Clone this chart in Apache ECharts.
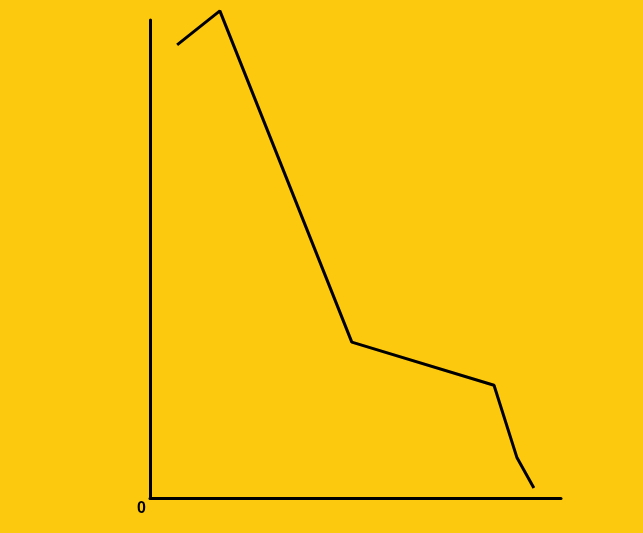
<!DOCTYPE html>
<html>
<head>
<meta charset="utf-8">
<script src="https://cdn.jsdelivr.net/npm/echarts@6/dist/echarts.min.js"></script>
<style>
html,body{margin:0;padding:0;background:#FDC90E;}
#c{width:643px;height:533px;}
</style>
</head>
<body>
<div id="c"></div>
<script>
const xValues = [6.6, 17.0, 49.1, 83.7, 89.3, 93.4];
const yValues = [94.8, 101.9, 32.6, 23.6, 8.4, 2.1];
const yTickLabels = ['0'];

const chart = echarts.init(document.getElementById('c'));
chart.setOption({
  backgroundColor: '#FDC90E',
  animation: false,
  grid: { left: 150, right: 82, top: 20, bottom: 35 },
  xAxis: {
    type: 'value', min: 0, max: 100,
    axisLine: { show: true, lineStyle: { color: '#000', width: 3 } },
    axisTick: { show: false },
    axisLabel: { show: false },
    splitLine: { show: false }
  },
  yAxis: {
    type: 'value', min: 0, max: 100, interval: 100,
    axisLine: { show: true, lineStyle: { color: '#000', width: 3 } },
    axisTick: { show: false },
    splitLine: { show: false },
    axisLabel: {
      show: true, margin: 4, verticalAlign: 'top',
      padding: [3, 0, 0, 0],
      color: '#000', fontWeight: 'bold', fontSize: 16,
      fontFamily: 'Liberation Sans, Arial, sans-serif',
      formatter: v => (v === 0 ? yTickLabels[0] : '')
    }
  },
  series: [{
    type: 'line',
    data: xValues.map((x, i) => [x, yValues[i]]),
    symbol: 'none',
    clip: false,
    lineStyle: { color: '#000', width: 3 }
  }]
});
</script>
</body>
</html>
